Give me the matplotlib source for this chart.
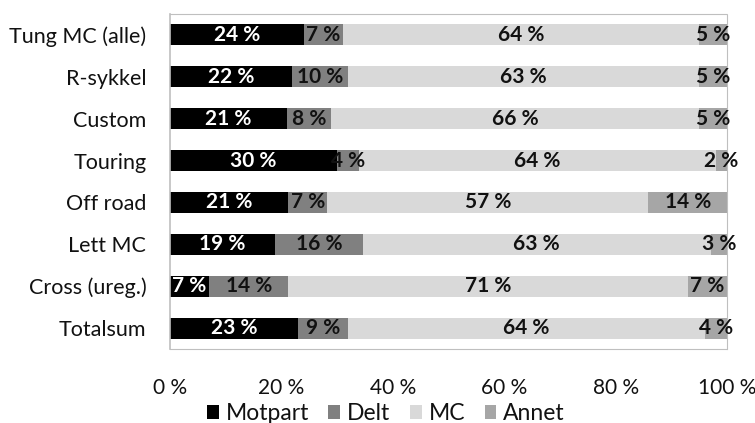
import matplotlib
matplotlib.use("Agg")
import matplotlib.pyplot as plt
import numpy as np

plt.rcParams['font.family'] = ['Lato', 'DejaVu Sans']

categories = ["Tung MC (alle)", "R-sykkel", "Custom", "Touring", "Off road",
              "Lett MC", "Cross (ureg.)", "Totalsum"]
series_names = ["Motpart", "Delt", "MC", "Annet"]
motpart = [24, 22, 21, 30, 21, 19, 7, 23]
delt = [7, 10, 8, 4, 7, 16, 14, 9]
mc = [64, 63, 66, 64, 57, 63, 71, 64]
annet = [5, 5, 5, 2, 14, 3, 7, 4]
xticks = [0, 20, 40, 60, 80, 100]

colors = ["#000000", "#808080", "#d9d9d9", "#a6a6a6"]
text_colors = ["white", "#111111", "#111111", "#111111"]

data = np.array([motpart, delt, mc, annet], dtype=float)
totals = data.sum(axis=0)
shares = data / totals * 100  # 100 % stacked

fig = plt.figure(figsize=(7.55, 4.23), dpi=100)
ax = fig.add_axes([0.225, 0.175, 0.738, 0.792])

y = np.arange(len(categories))
left = np.zeros(len(categories))
handles = []
for i, name in enumerate(series_names):
    h = ax.barh(y, shares[i], left=left, height=0.5, color=colors[i], label=name)
    handles.append(h)
    for j in range(len(categories)):
        ax.text(left[j] + shares[i][j] / 2, y[j], f"{int(data[i][j])} %",
                ha="center", va="center", fontsize=15, fontweight="bold",
                color=text_colors[i])
    left += shares[i]

ax.set_xlim(0, 100)
ax.set_ylim(len(categories) - 0.5, -0.5)
ax.set_yticks(y)
ax.set_yticklabels(categories, fontsize=15.5, color="#111111")
ax.set_xticks(xticks)
ax.set_xticklabels([f"{t} %" for t in xticks], fontsize=15, color="#111111")
ax.tick_params(axis="y", length=0, pad=17)
ax.tick_params(axis="x", length=0, pad=21)

for side in ["top", "right", "bottom"]:
    ax.spines[side].set_linestyle((0, (1, 1)))
    ax.spines[side].set_color("#bfbfbf")
    ax.spines[side].set_linewidth(0.8)
ax.spines["left"].set_color("#bfbfbf")
ax.spines["left"].set_linewidth(1.2)

fig.legend(handles, series_names, loc="center", bbox_to_anchor=(0.511, 0.022),
           ncol=4, frameon=False, fontsize=16.5, handlelength=0.52, handleheight=0.52,
           handletextpad=0.3, columnspacing=0.85, labelcolor="#111111")

fig.savefig("out.png", dpi=100)
